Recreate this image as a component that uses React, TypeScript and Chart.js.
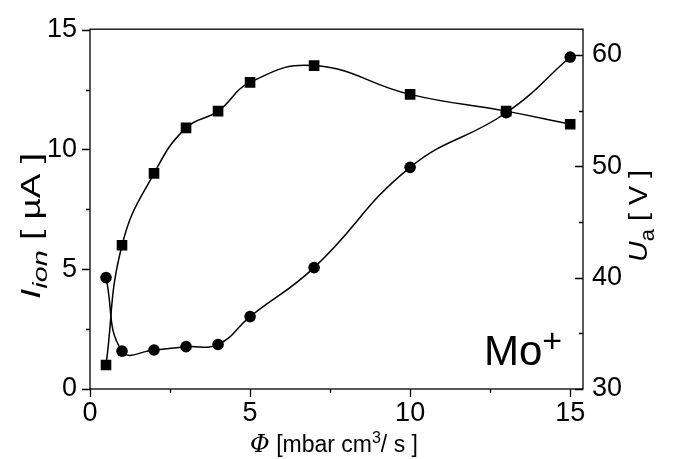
import React, { useEffect, useRef } from 'react';
import { Chart, registerables } from 'chart.js';

Chart.register(...registerables);

// Data
const phi = [0.5, 1, 2, 3, 4, 5, 7, 10, 13, 15];
const ionCurrent = [1.0, 6.0, 9.0, 10.9, 11.6, 12.8, 13.5, 12.3, 11.6, 11.05];
const anodeVoltage = [40.0, 33.4, 33.5, 33.8, 34.0, 36.5, 40.9, 49.9, 54.8, 59.8];

const xMajorTicks = [0, 5, 10, 15];
const xMinorTicks = [2.5, 7.5, 12.5];
const yMajorTicks = [0, 5, 10, 15];
const yMinorTicks = [2.5, 7.5, 12.5];
const y1MajorTicks = [30, 40, 50, 60];
const y1MinorTicks = [35, 45, 55];

const SANS = '"Liberation Sans", Arial, sans-serif';
const SERIF = '"DejaVu Serif", "Liberation Serif", serif';

type Seg = { t: string; font: string; dy?: number };

function drawRich(ctx: CanvasRenderingContext2D, segs: Seg[], cx: number, cy: number, rot: number, targetW?: number) {
  let w = 0;
  for (const s of segs) {
    ctx.font = s.font;
    w += ctx.measureText(s.t).width;
  }
  const sc = targetW ? targetW / w : 1;
  ctx.save();
  ctx.translate(cx, cy);
  ctx.rotate(rot);
  ctx.scale(sc, 1);
  ctx.textAlign = 'left';
  ctx.textBaseline = 'alphabetic';
  ctx.fillStyle = '#000';
  let x = -w / 2;
  for (const s of segs) {
    ctx.font = s.font;
    ctx.fillText(s.t, x, s.dy || 0);
    x += ctx.measureText(s.t).width;
  }
  ctx.restore();
}

const framePlugin = {
  id: 'frame',
  afterDatasetsDraw(chart: any) {
    const { ctx, chartArea: a, scales } = chart;
    ctx.save();
    ctx.strokeStyle = '#000';
    ctx.lineWidth = 1.3;
    ctx.strokeRect(a.left, a.top, a.right - a.left, a.bottom - a.top);
    ctx.beginPath();
    const xt = (vals: number[], len: number) => {
      for (const v of vals) {
        const p = Math.round(scales.x.getPixelForValue(v)) + 0.5;
        ctx.moveTo(p, a.bottom);
        ctx.lineTo(p, a.bottom + len);
      }
    };
    const yt = (vals: number[], len: number) => {
      for (const v of vals) {
        const p = Math.round(scales.y.getPixelForValue(v)) + 0.5;
        ctx.moveTo(a.left, p);
        ctx.lineTo(a.left - len, p);
      }
    };
    const y1t = (vals: number[], len: number) => {
      for (const v of vals) {
        const p = Math.round(scales.y1.getPixelForValue(v)) + 0.5;
        ctx.moveTo(a.right, p);
        ctx.lineTo(a.right - len, p);
      }
    };
    xt(xMajorTicks, 8);
    xt(xMinorTicks, 4);
    yt(yMajorTicks, 8);
    yt(yMinorTicks, 4);
    y1t(y1MajorTicks, 8);
    y1t(y1MinorTicks, 4);
    ctx.stroke();

    // Left axis title: I_ion [ µA ]
    drawRich(
      ctx,
      [
        { t: 'I', font: `italic 27px ${SANS}` },
        { t: 'ion', font: `italic 21px ${SANS}`, dy: 7 },
        { t: ' [ µA ]', font: `27px ${SANS}` },
      ],
      40,
      226,
      -Math.PI / 2,
      146
    );

    // Right axis title: U_a [ V ]
    drawRich(
      ctx,
      [
        { t: 'U', font: `italic 26px ${SANS}` },
        { t: 'a', font: `20px ${SANS}`, dy: 7 },
        { t: ' [ V ]', font: `26px ${SANS}` },
      ],
      647,
      216,
      -Math.PI / 2,
      92
    );

    // Bottom axis title: Φ [mbar cm³/ s ]
    drawRich(
      ctx,
      [
        { t: 'Φ', font: `italic 24px ${SERIF}` },
        { t: ' [mbar cm', font: `23px ${SANS}` },
        { t: '3', font: `16px ${SANS}`, dy: -9 },
        { t: '/ s ]', font: `23px ${SANS}` },
      ],
      334,
      452,
      0
    );

    // Mo+ annotation
    ctx.fillStyle = '#000';
    ctx.textAlign = 'left';
    ctx.textBaseline = 'alphabetic';
    ctx.font = `42px ${SANS}`;
    ctx.fillText('Mo', 484, 365);
    const mw = ctx.measureText('Mo').width;
    ctx.font = `34px ${SANS}`;
    ctx.fillText('+', 484 + mw, 352);
    ctx.restore();
  },
};

export default function App() {
  const ref = useRef<HTMLCanvasElement | null>(null);

  useEffect(() => {
    if (!ref.current) return;
    const tickFont = { family: SANS, size: 27 };
    const chart = new Chart(ref.current, {
      type: 'scatter',
      data: {
        datasets: [
          {
            label: 'I_ion',
            data: phi.map((x, i) => ({ x, y: ionCurrent[i] })),
            yAxisID: 'y',
            showLine: true,
            tension: 0.45,
            borderColor: '#000',
            backgroundColor: '#000',
            borderWidth: 1.5,
            pointStyle: 'rect',
            pointRadius: 7.5,
            pointBorderWidth: 0,
            pointBackgroundColor: '#000',
          },
          {
            label: 'U_a',
            data: phi.map((x, i) => ({ x, y: anodeVoltage[i] })),
            yAxisID: 'y1',
            showLine: true,
            tension: 0.45,
            borderColor: '#000',
            backgroundColor: '#000',
            borderWidth: 1.5,
            pointStyle: 'circle',
            pointRadius: 5.8,
            pointBorderWidth: 0,
            pointBackgroundColor: '#000',
          },
        ],
      },
      options: {
        responsive: false,
        animation: false,
        events: [],
        layout: { padding: { top: 21, left: 0, right: 0, bottom: 0 } },
        plugins: { legend: { display: false }, tooltip: { enabled: false } },
        scales: {
          x: {
            type: 'linear',
            position: 'bottom',
            min: 0,
            max: 15.4,
            grid: { display: false, drawTicks: false },
            border: { display: false },
            ticks: { font: tickFont, color: '#000', padding: 8, autoSkip: false, maxRotation: 0 },
            afterBuildTicks: (s: any) => {
              s.ticks = xMajorTicks.map((v) => ({ value: v }));
            },
            afterFit: (s: any) => {
              s.height = 70;
            },
          },
          y: {
            type: 'linear',
            position: 'left',
            min: 0,
            max: 15.02,
            grid: { display: false, drawTicks: false },
            border: { display: false },
            ticks: { font: tickFont, color: '#000', padding: 13, autoSkip: false },
            afterBuildTicks: (s: any) => {
              s.ticks = yMajorTicks.map((v) => ({ value: v }));
            },
            afterFit: (s: any) => {
              s.width = 90;
            },
          },
          y1: {
            type: 'linear',
            position: 'right',
            min: 30,
            max: 62.3,
            grid: { display: false, drawTicks: false },
            border: { display: false },
            ticks: { font: tickFont, color: '#000', padding: 9, autoSkip: false },
            afterBuildTicks: (s: any) => {
              s.ticks = y1MajorTicks.map((v) => ({ value: v }));
            },
            afterFit: (s: any) => {
              s.width = 90;
            },
          },
        },
      } as any,
      plugins: [framePlugin],
    });
    return () => chart.destroy();
  }, []);

  return (
    <div style={{ position: 'absolute', left: 0, top: 0, width: 673, height: 459, background: '#fff' }}>
      <canvas ref={ref} width={673} height={459} style={{ display: 'block' }} />
    </div>
  );
}
